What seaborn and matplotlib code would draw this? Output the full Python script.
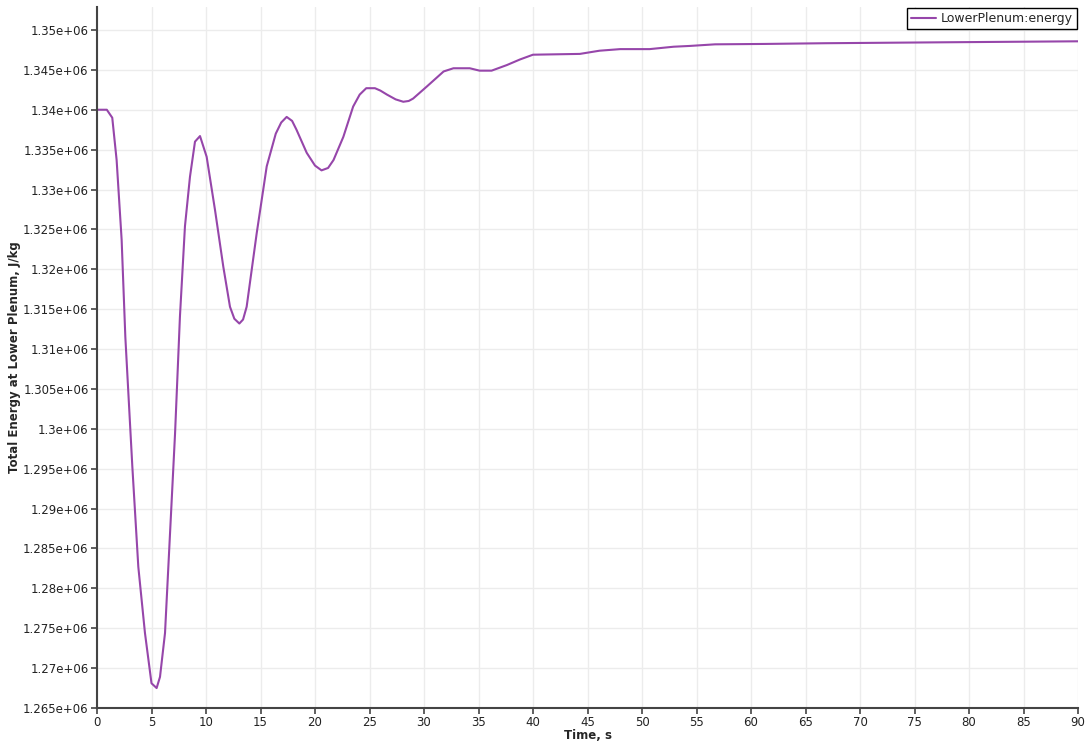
import matplotlib
matplotlib.use("Agg")
import matplotlib.pyplot as plt
import seaborn as sns
import pandas as pd
from matplotlib.ticker import FuncFormatter, MultipleLocator

time_s = [0, 0.9, 1.4, 1.8, 2.26, 2.6, 3.24, 3.79, 4.4, 5.0, 5.47, 5.78, 6.24, 6.7,
          7.16, 7.61, 8.07, 8.53, 8.99, 9.45, 10.06, 10.83, 11.59, 12.2, 12.6, 13.06,
          13.4, 13.73, 14.65, 15.57, 16.4, 16.9, 17.4, 17.9, 18.3, 19.24, 20.0, 20.6,
          21.2, 21.7, 22.6, 23.5, 24.1, 24.7, 25.5, 26.0, 26.6, 27.4, 28.1, 28.6, 29.0,
          30.25, 31.8, 32.7, 34.2, 35.1, 36.2, 37.6, 38.8, 40.0, 44.3, 46.1, 48.0,
          50.7, 52.9, 54.4, 56.7, 61.3, 66.9, 78.1, 90]
energy = [1.34e6, 1.34e6, 1.339e6, 1.3337e6, 1.3237e6, 1.3115e6, 1.2953e6, 1.2827e6,
          1.2744e6, 1.2681e6, 1.2675e6, 1.2689e6, 1.2744e6, 1.2869e6, 1.2994e6,
          1.3141e6, 1.3254e6, 1.3316e6, 1.3360e6, 1.3367e6, 1.3341e6, 1.3274e6,
          1.3203e6, 1.3153e6, 1.3138e6, 1.3132e6, 1.3137e6, 1.3153e6, 1.3245e6,
          1.3329e6, 1.3370e6, 1.3384e6, 1.3391e6, 1.3386e6, 1.3375e6, 1.3346e6,
          1.3330e6, 1.3324e6, 1.3327e6, 1.3337e6, 1.3366e6, 1.3404e6, 1.3419e6,
          1.3427e6, 1.3427e6, 1.3424e6, 1.3419e6, 1.3413e6, 1.3410e6, 1.3411e6,
          1.3414e6, 1.3429e6, 1.3448e6, 1.3452e6, 1.3452e6, 1.3449e6, 1.3449e6,
          1.3456e6, 1.3463e6, 1.3469e6, 1.3470e6, 1.3474e6, 1.3476e6, 1.3476e6,
          1.3479e6, 1.3480e6, 1.3482e6, 1.34825e6, 1.34834e6, 1.34846e6, 1.34858e6]
series_name = "LowerPlenum:energy"
x_label = "Time, s"
y_label = "Total Energy at Lower Plenum, J/kg"

df = pd.DataFrame({"t": time_s, "e": energy, "series": series_name})

sns.set_theme(style="whitegrid")
plt.rcParams["font.family"] = ["DejaVu Sans"]

fig = plt.figure(figsize=(10.9, 7.44), dpi=100)
ax = fig.add_axes([97 / 1090, 1 - 708 / 744, (1078 - 97) / 1090, (708 - 7) / 744])

sns.lineplot(data=df, x="t", y="e", hue="series", palette=["#9646aa"], ax=ax,
             linewidth=1.5, legend=True)

ax.set_xlim(0, 90)
ax.set_ylim(1.265e6, 1.35288e6)
ax.xaxis.set_major_locator(MultipleLocator(5))
ax.yaxis.set_major_locator(MultipleLocator(5000))
ax.yaxis.set_major_formatter(FuncFormatter(lambda v, p: f"{v:g}"))
ax.xaxis.set_major_formatter(FuncFormatter(lambda v, p: f"{v:g}"))

ax.set_facecolor("white")
ax.grid(True, color="#ececec", linewidth=1.0)
for s in ["top", "right"]:
    ax.spines[s].set_visible(False)
for s in ["left", "bottom"]:
    ax.spines[s].set_visible(True)
    ax.spines[s].set_color("#444444")
    ax.spines[s].set_linewidth(1.5)
ax.tick_params(axis="both", which="major", direction="out", length=4, width=1.2,
               color="#444444", labelsize=8.5, labelcolor="#222222", pad=2,
               bottom=True, left=True)

ax.set_xlabel(x_label, fontsize=8.5, fontweight="bold", labelpad=0)
ax.set_ylabel(y_label, fontsize=8.5, fontweight="bold")
ax.yaxis.set_label_coords(-0.077, 0.5)

leg = ax.legend(loc="upper right", fontsize=9, frameon=True, fancybox=False,
                borderaxespad=0.1, handlelength=2.0, borderpad=0.3,
                handletextpad=0.4)
leg.get_frame().set_edgecolor("black")
leg.get_frame().set_linewidth(1.0)
leg.get_frame().set_alpha(1)

fig.savefig("out.png", dpi=100)
